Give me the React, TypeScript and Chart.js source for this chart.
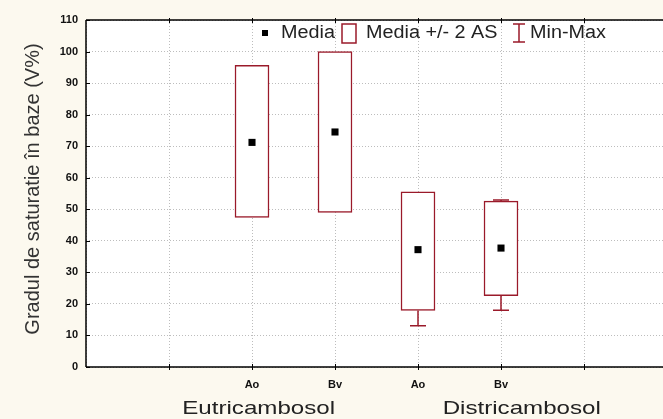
import { useEffect, useRef } from 'react';
import { Chart, registerables } from 'chart.js';
Chart.register(...registerables);

// ---- data ----
const categories = ['Ao', 'Bv', 'Ao', 'Bv'];
const positions = [2, 3, 4, 5];
const groups = ['Eutricambosol', 'Districambosol'];
const means = [71.2, 74.5, 37.2, 37.7];
const boxLow = [47.4, 49.0, 17.9, 22.6];
const boxHigh = [95.6, 100.0, 55.5, 52.6];
// min / max only where visible outside the box (null = hidden inside the box)
const minVals: (number | null)[] = [null, null, 13.1, 18.0];
const maxVals: (number | null)[] = [null, null, null, 52.9];
const yTicks = [0, 10, 20, 30, 40, 50, 60, 70, 80, 90, 100, 110];

// ---- layout / style ----
const GROUP_LABEL_AT = [2.08, 5.25]; // x-axis units where group labels are centred
const RED = '#9a1a2a';
const BG = '#fcf9ef';
const FONT = '"Liberation Sans", Arial, sans-serif';
const W = 672;
const H = 419;

function stretchedText(ctx: CanvasRenderingContext2D, text: string, x: number, y: number, sx: number) {
  ctx.save();
  ctx.translate(x, y);
  ctx.scale(sx, 1);
  ctx.fillText(text, 0, 0);
  ctx.restore();
}

export default function App() {
  const ref = useRef<HTMLCanvasElement | null>(null);
  useEffect(() => {
    const canvas = ref.current!;
    const decor = {
      id: 'decor',
      beforeDraw(chart: any) {
        const { ctx, chartArea: a } = chart;
        ctx.save();
        ctx.fillStyle = BG;
        ctx.fillRect(0, 0, chart.width, chart.height);
        ctx.fillStyle = '#ffffff';
        ctx.fillRect(a.left, a.top, a.right - a.left, a.bottom - a.top);
        ctx.restore();
      },
      afterDatasetsDraw(chart: any) {
        const { ctx, chartArea: a, scales } = chart;
        const xs = scales.x, ys = scales.y;
        ctx.save();
        // whiskers
        ctx.strokeStyle = RED;
        ctx.lineWidth = 1.5;
        positions.forEach((p, i) => {
          const x = xs.getPixelForValue(p);
          const mn = minVals[i];
          const mx = maxVals[i];
          if (mn !== null) {
            const y0 = ys.getPixelForValue(boxLow[i]);
            const y1 = ys.getPixelForValue(mn);
            ctx.beginPath();
            ctx.moveTo(x, y0); ctx.lineTo(x, y1);
            ctx.moveTo(x - 8, y1); ctx.lineTo(x + 8, y1);
            ctx.stroke();
          }
          if (mx !== null) {
            const y0 = ys.getPixelForValue(boxHigh[i]);
            const y1 = ys.getPixelForValue(mx);
            ctx.beginPath();
            ctx.moveTo(x, y0); ctx.lineTo(x, y1);
            ctx.moveTo(x - 8, y1); ctx.lineTo(x + 8, y1);
            ctx.stroke();
          }
        });
        // frame
        ctx.strokeStyle = '#000';
        ctx.lineWidth = 1.5;
        ctx.beginPath();
        ctx.moveTo(a.left, a.top); ctx.lineTo(a.right, a.top);
        ctx.moveTo(a.left, a.top); ctx.lineTo(a.left, a.bottom);
        ctx.moveTo(a.left, a.bottom); ctx.lineTo(a.right, a.bottom);
        ctx.stroke();
        // small tick marks
        ctx.lineWidth = 1;
        for (let v = 1; v <= 7; v++) {
          const x = Math.round(xs.getPixelForValue(v)) + 0.5;
          ctx.beginPath();
          ctx.moveTo(x, a.bottom - 3); ctx.lineTo(x, a.bottom + 3);
          ctx.moveTo(x, a.top - 2); ctx.lineTo(x, a.top + 3);
          ctx.stroke();
        }
        yTicks.forEach((v) => {
          const y = Math.round(ys.getPixelForValue(v)) + 0.5;
          ctx.beginPath();
          ctx.moveTo(a.left, y); ctx.lineTo(a.left + 4, y);
          ctx.stroke();
        });
        // y title
        ctx.fillStyle = '#333';
        ctx.font = `20px ${FONT}`;
        ctx.textAlign = 'center';
        ctx.textBaseline = 'middle';
        ctx.save();
        ctx.translate(33, 189);
        ctx.rotate(-Math.PI / 2);
        ctx.fillText('Gradul de saturatie în baze (V%)', 0, 0);
        ctx.restore();
        // group labels
        ctx.fillStyle = '#222';
        ctx.font = `19px ${FONT}`;
        groups.forEach((g, i) => {
          const x = xs.getPixelForValue(GROUP_LABEL_AT[i]);
          stretchedText(ctx, g, x, 409, 1.27);
        });
        // legend
        const ly = 33;
        ctx.textAlign = 'left';
        ctx.font = `18px ${FONT}`;
        ctx.fillStyle = '#000';
        ctx.fillRect(262, ly - 3, 6, 6);
        ctx.fillStyle = '#222';
        stretchedText(ctx, 'Media', 281, ly, 1.1);
        ctx.strokeStyle = RED;
        ctx.lineWidth = 1.5;
        ctx.fillStyle = '#fff';
        ctx.fillRect(342, ly - 9, 14, 19);
        ctx.strokeRect(342, ly - 9, 14, 19);
        ctx.fillStyle = '#222';
        stretchedText(ctx, 'Media +/- 2 AS', 366, ly, 1.1);
        ctx.beginPath();
        ctx.moveTo(513, ly - 9); ctx.lineTo(525, ly - 9);
        ctx.moveTo(519, ly - 9); ctx.lineTo(519, ly + 9);
        ctx.moveTo(513, ly + 9); ctx.lineTo(525, ly + 9);
        ctx.stroke();
        stretchedText(ctx, 'Min-Max', 530, ly, 1.1);
        ctx.restore();
      },
    };

    const chart = new Chart(canvas, {
      type: 'bar',
      data: {
        datasets: [
          {
            type: 'bar',
            data: positions.map((p, i) => ({ x: p, y: [boxLow[i], boxHigh[i]] })) as any,
            backgroundColor: '#ffffff',
            borderColor: RED,
            borderWidth: 1.5,
            borderSkipped: false,
            barThickness: 34,
            grouped: false,
            order: 2,
          } as any,
          {
            type: 'scatter',
            data: positions.map((p, i) => ({ x: p, y: means[i] })),
            pointStyle: 'rect',
            pointRadius: 5,
            backgroundColor: '#000',
            borderWidth: 0,
            order: 1,
          } as any,
        ],
      },
      plugins: [decor],
      options: {
        animation: false,
        responsive: false,
        maintainAspectRatio: false,
        events: [],
        layout: { padding: { top: 20, right: 5, left: 0, bottom: 0 } },
        plugins: { legend: { display: false }, tooltip: { enabled: false } },
        scales: {
          x: {
            type: 'linear',
            min: 0,
            max: 7,
            offset: false,
            afterFit: (s: any) => { s.height = 52; s.paddingLeft = 0; s.paddingRight = 0; },
            afterBuildTicks: (s: any) => {
              s.ticks = [0, 1, 2, 3, 4, 5, 6, 7].map((v) => ({ value: v }));
            },
            ticks: {
              autoSkip: false,
              maxRotation: 0,
              padding: 11,
              color: '#111',
              font: { size: 11, weight: 'bold', family: FONT },
              callback: (v: any) => {
                const i = positions.indexOf(Number(v));
                return i >= 0 ? categories[i] : '';
              },
            },
            grid: { color: '#bdbdbd', drawTicks: false, tickLength: 0, offset: false },
            border: { display: false, dash: [1, 2] },
          },
          y: {
            type: 'linear',
            min: 0,
            max: 110,
            afterFit: (s: any) => { s.width = 86; s.paddingTop = 0; s.paddingBottom = 0; },
            afterBuildTicks: (s: any) => {
              s.ticks = yTicks.map((v) => ({ value: v }));
            },
            ticks: {
              padding: 8,
              color: '#111',
              font: { size: 11, weight: 'bold', family: FONT },
            },
            grid: { color: '#bdbdbd', drawTicks: false, tickLength: 0 },
            border: { display: false, dash: [1, 2] },
          },
        },
      } as any,
    });
    return () => chart.destroy();
  }, []);

  return (
    <div style={{ position: 'fixed', left: 0, top: 0, width: 663, height: 419, overflow: 'hidden', background: BG }}>
      <canvas ref={ref} width={W} height={H} style={{ width: W, height: H, display: 'block' }} />
    </div>
  );
}
